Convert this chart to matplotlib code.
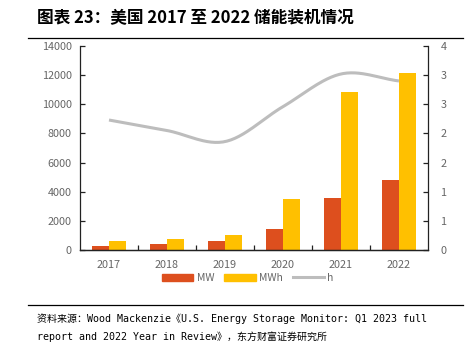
import numpy as np
import matplotlib.pyplot as plt
from matplotlib.ticker import FixedLocator, FixedFormatter
from matplotlib.lines import Line2D
from matplotlib.patches import Patch

plt.rcParams['font.family'] = ['Noto Sans CJK SC', 'DejaVu Sans']

years = ['2017', '2018', '2019', '2020', '2021', '2022']
mw = [300, 390, 600, 1440, 3560, 4800]
mwh = [640, 750, 1050, 3500, 10820, 12120]
hours = [2.23, 2.05, 1.86, 2.46, 3.02, 2.90]
right_ticks = [0, 0.5, 1.0, 1.5, 2.0, 2.5, 3.0, 3.5]
right_labels = ['0', '1', '1', '2', '2', '3', '3', '4']

RED = '#DD4F1E'
YELLOW = '#FFC000'
GRAY = '#BDBDBD'
TICK = '#666666'


def smooth(x, y, n=30):
    # Catmull-Rom curve through the points, like Excel's smoothed line
    x = np.asarray(x, float)
    y = np.asarray(y, float)
    px = np.concatenate([[2 * x[0] - x[1]], x, [2 * x[-1] - x[-2]]])
    py = np.concatenate([[2 * y[0] - y[1]], y, [2 * y[-1] - y[-2]]])
    xs, ys = [], []
    t = np.linspace(0, 1, n)
    for i in range(1, len(px) - 2):
        for p, out in ((px, xs), (py, ys)):
            p0, p1, p2, p3 = p[i - 1], p[i], p[i + 1], p[i + 2]
            out.append(0.5 * (2 * p1 + (-p0 + p2) * t + (2 * p0 - 5 * p1 + 4 * p2 - p3) * t ** 2
                              + (-p0 + 3 * p1 - 3 * p2 + p3) * t ** 3))
    return np.concatenate(xs), np.concatenate(ys)


fig = plt.figure(figsize=(4.72, 3.45), dpi=100)
ax = fig.add_axes([80 / 472, 1 - 250 / 345, 348 / 472, 204 / 345])

x = np.arange(len(years))
w = 0.285
ax.bar(x - w / 2, mw, w, color=RED, zorder=2)
ax.bar(x + w / 2, mwh, w, color=YELLOW, zorder=2)
ax.set_xlim(-0.5, len(years) - 0.5)
ax.set_ylim(0, 14000)
ax.set_yticks(np.arange(0, 14001, 2000))
ax.xaxis.set_major_locator(FixedLocator(x))
ax.xaxis.set_major_formatter(FixedFormatter(years))
ax.xaxis.set_minor_locator(FixedLocator(x[:-1] + 0.5))

ax2 = ax.twinx()
sx, sy = smooth(x, hours)
ax2.plot(sx, sy, color=GRAY, lw=2.2, solid_capstyle='butt', zorder=3)
ax2.set_ylim(0, 3.5)
ax2.yaxis.set_major_locator(FixedLocator(right_ticks))
ax2.yaxis.set_major_formatter(FixedFormatter(right_labels))

for a in (ax, ax2):
    a.spines['top'].set_visible(False)
    for s in a.spines.values():
        s.set_linewidth(0.9)
        s.set_color('#222222')
    a.tick_params(direction='in', length=3.5, width=0.9, colors='#222222',
                  labelcolor=TICK, labelsize=7.8, pad=6)
ax.spines['right'].set_visible(False)
ax2.spines['left'].set_visible(False)
ax.tick_params(axis='x', which='major', length=0, pad=7)
ax.tick_params(axis='x', which='minor', direction='in', length=3.5, width=0.9, color='#222222')
ax2.tick_params(axis='y', pad=9)

handles = [Patch(color=RED), Patch(color=YELLOW), Line2D([], [], color=GRAY, lw=2.2)]
fig.legend(handles, ['MW', 'MWh', 'h'], loc='center', bbox_to_anchor=(248 / 472, 1 - 278 / 345),
           ncol=3, frameon=False, fontsize=7.5, handlelength=3.0, handleheight=0.7,
           columnspacing=1.0, handletextpad=0.3, labelcolor=TICK)

fig.text(37 / 472, 1 - 18 / 345, '图表 23：美国 2017 至 2022 储能装机情况',
         fontsize=12, fontweight='bold', va='center', ha='left')
fig.add_artist(Line2D([28 / 472, 463 / 472], [1 - 38 / 345] * 2, color='black', lw=0.9))
fig.add_artist(Line2D([28 / 472, 463 / 472], [1 - 305 / 345] * 2, color='black', lw=0.9))

src = ['资料来源：Wood Mackenzie《U.S. Energy Storage Monitor: Q1 2023 full',
       'report and 2022 Year in Review》，东方财富证券研究所']
for i, line in enumerate(src):
    fig.text(37 / 472, 1 - (319 + 18 * i) / 345, line, fontsize=7.2,
             family=['DejaVu Sans Mono', 'Noto Sans CJK SC'], va='center', ha='left')

fig.savefig('out.png', dpi=100)
